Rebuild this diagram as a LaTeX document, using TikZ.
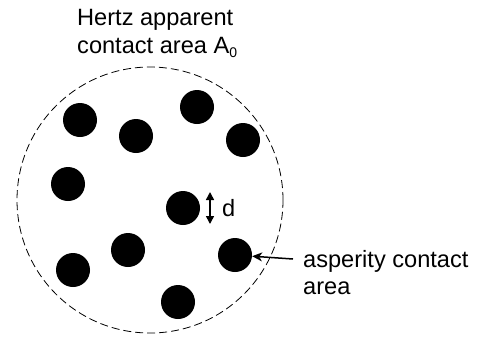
\documentclass[tikz,border=0pt]{standalone}
\usepackage{fontspec}
\setmainfont{Liberation Sans}
\usetikzlibrary{arrows.meta}
\begin{document}
\begin{tikzpicture}[x=1pt,y=-1pt,
  dot/.style={circle,fill=black,inner sep=0pt,minimum size=34pt},
  lbl/.style={inner sep=0pt,anchor=base west,font=\fontsize{23.6}{28}\selectfont},
  hertz/.style={draw=black,line width=0.8pt,dash pattern=on 8pt off 4pt},
  arr/.style={line width=1.5pt}]
\useasboundingbox (0,0) rectangle (478,338);
\node[circle,minimum size=266pt,inner sep=0pt,hertz] (hz) at (150,200) {};
\node[dot] (d1) at (80,120) {};
\node[dot] (d2) at (197,107) {};
\node[dot] (d3) at (136,136) {};
\node[dot] (d4) at (243,140) {};
\node[dot] (d5) at (68,184) {};
\node[dot] (d6) at (183,208) {};
\node[dot] (d7) at (128,250) {};
\node[dot] (d8) at (235,255) {};
\node[dot] (d9) at (73,270) {};
\node[dot] (d10) at (178,302) {};
\node[lbl] (t1) at (77,25) {Hertz apparent};
\node[lbl] (t2) at (77,53) {contact area A\raisebox{-4pt}{\fontsize{14}{14}\selectfont 0}};
\node[lbl] (a1) at (303,267) {asperity contact};
\node[lbl] (a2) at (303,294.5) {area};
\node[lbl] (dl) at (222,216) {d};
\coordinate (dA) at (210,192);
\coordinate (dB) at (210,224);
\draw[arr,{Triangle[width=8pt,length=8pt]}-{Triangle[width=8pt,length=8pt]}] (dA) -- (dB);
\coordinate (tail) at (293,259);
\draw[arr,-{Stealth[width=9pt,length=10pt,inset=3pt]}] (tail) -- (d8);
\end{tikzpicture}
\end{document}
